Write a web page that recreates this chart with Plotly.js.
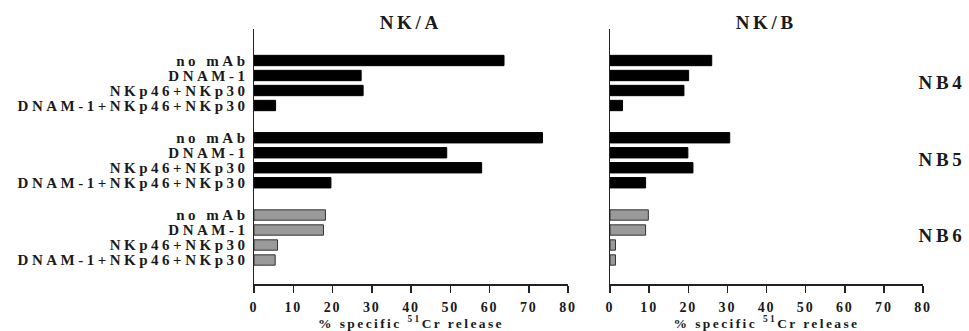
<!DOCTYPE html>
<html>
<head>
<meta charset="utf-8">
<script src="https://cdn.plot.ly/plotly-3.0.1.min.js"></script>
<style>
  html, body { margin: 0; padding: 0; background: #fff; }
  #plot { width: 969px; height: 331px; }
  #plot .ytick text { letter-spacing: 3.5px; }
  #plot .xtick text, #plot .x2tick text { letter-spacing: 1.8px; }
  #plot .xtitle, #plot .x2title { letter-spacing: 2.4px; }
  #plot .annotation-text { letter-spacing: 3.6px; }
</style>
</head>
<body>
<div id="plot"></div>
<script>
// ---- data ----
var categories = ["no mAb", "DNAM-1", "NKp46+NKp30", "DNAM-1+NKp46+NKp30"];
var groups = ["NB4", "NB5", "NB6"];
var panels = ["NK/A", "NK/B"];

var nkA_NB4 = [63.7, 27.3, 27.8, 5.5];
var nkA_NB5 = [73.5, 49.1, 58.0, 19.6];
var nkA_NB6 = [18.2, 17.7, 6.0, 5.4];

var nkB_NB4 = [26.0, 20.1, 18.9, 3.2];
var nkB_NB5 = [30.6, 19.9, 21.2, 9.1];
var nkB_NB6 = [9.8, 9.1, 1.4, 1.4];

var xTicks = [0, 10, 20, 30, 40, 50, 60, 70, 80];

// ---- build ----
var groupStep = 5.15;
function ypos(g) { return categories.map(function (c, i) { return g * groupStep + i; }); }

var colors = ["#000000", "#000000", "#9a9a9a"];
var lines = ["#000000", "#000000", "#333333"];

var panelData = [[nkA_NB4, nkA_NB5, nkA_NB6], [nkB_NB4, nkB_NB5, nkB_NB6]];
var traces = [];
panelData.forEach(function (pd, p) {
  pd.forEach(function (vals, g) {
    traces.push({
      type: "bar", orientation: "h",
      x: vals, y: ypos(g),
      width: 0.69,
      marker: { color: colors[g], line: { color: lines[g], width: 1 } },
      xaxis: p === 0 ? "x" : "x2",
      yaxis: p === 0 ? "y" : "y2",
      showlegend: false, hoverinfo: "x"
    });
  });
});

var tickVals = [], tickText = [];
groups.forEach(function (gname, g) {
  ypos(g).forEach(function (y, i) { tickVals.push(y); tickText.push(categories[i]); });
});

var fontFam = "Liberation Serif, Times New Roman, serif";
var txtColor = "#1a1a1a";
var yRange = [2 * groupStep + 3 + 1.62, -2.08];

function xAxis(domain, anchor) {
  return {
    domain: domain, anchor: anchor, range: [0, 80],
    tickvals: xTicks, ticktext: xTicks.map(String),
    showline: true, linecolor: "#222", linewidth: 1.5,
    ticks: "outside", ticklen: 7, tickwidth: 1.5, tickcolor: "#222",
    ticklabelstandoff: 2,
    showgrid: false, zeroline: false, fixedrange: true,
    tickfont: { family: fontFam, size: 14, weight: "bold", color: txtColor },
    title: { text: "% specific <sup>51</sup>Cr release", standoff: 5,
             font: { family: fontFam, size: 13.5, weight: "bold", color: txtColor } }
  };
}
function yAxis(domain, anchor, labels) {
  return {
    domain: domain, anchor: anchor, range: yRange,
    showline: true, linecolor: "#222", linewidth: 1.5,
    ticks: "", showgrid: false, zeroline: false, fixedrange: true,
    tickvals: labels ? tickVals : [], ticktext: labels ? tickText : [],
    showticklabels: !!labels, ticklabelstandoff: 1,
    tickfont: { family: fontFam, size: 15, weight: "bold", color: txtColor }
  };
}

var yDom = [(331 - 284.3) / 331, (331 - 29.3) / 331];
var annotations = [];
panels.forEach(function (name, p) {
  annotations.push({
    text: name, xref: p === 0 ? "x domain" : "x2 domain", yref: "paper",
    x: 0.5, y: (331 - 23) / 331, xanchor: "center", yanchor: "middle",
    showarrow: false, font: { family: fontFam, size: 19, weight: "bold", color: txtColor }
  });
});
var groupCenterY = [82, 159, 235];
groups.forEach(function (gname, g) {
  annotations.push({
    text: gname, xref: "paper", yref: "paper",
    x: 922 / 969, y: (331 - groupCenterY[g]) / 331, xanchor: "left", yanchor: "middle",
    showarrow: false, font: { family: fontFam, size: 19, weight: "bold", color: txtColor }
  });
});

var layout = {
  width: 969, height: 331,
  margin: { l: 0, r: 0, t: 0, b: 0 },
  paper_bgcolor: "#fff", plot_bgcolor: "#fff",
  xaxis: xAxis([254 / 969, 568 / 969], "y"),
  yaxis: yAxis(yDom, "x", true),
  xaxis2: xAxis([610 / 969, 923 / 969], "y2"),
  yaxis2: yAxis(yDom, "x2", false),
  annotations: annotations,
  bargap: 0.3
};

Plotly.newPlot("plot", traces, layout, { displayModeBar: false, staticPlot: true });
</script>
</body>
</html>
